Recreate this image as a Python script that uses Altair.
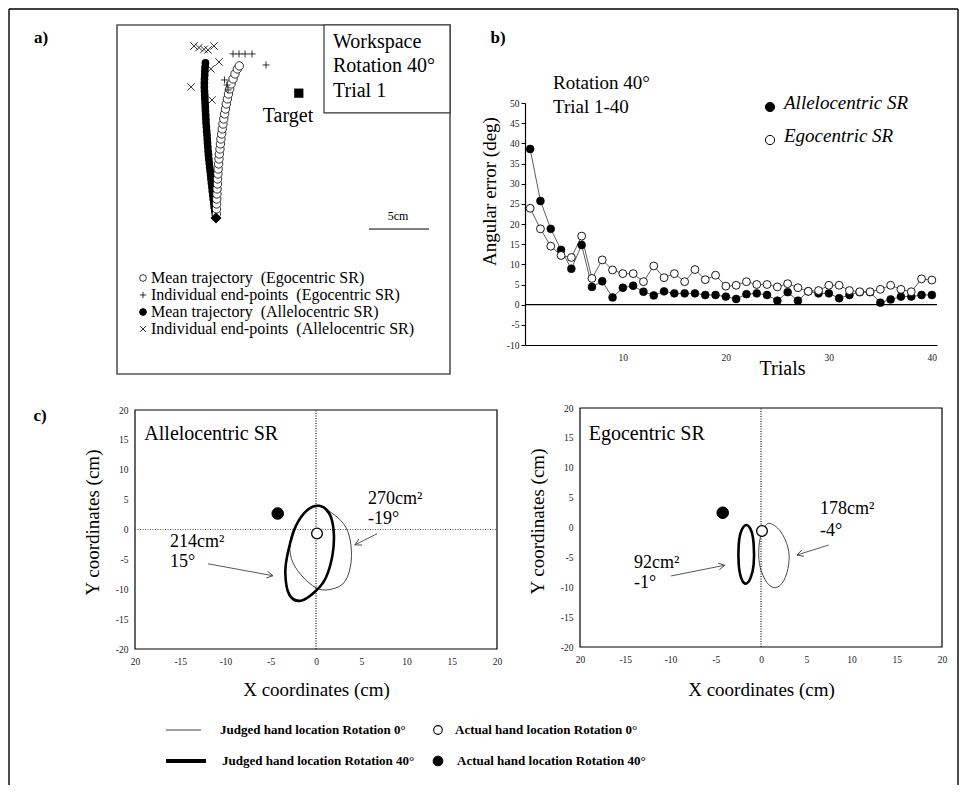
import altair as alt
import pandas as pd

SERIF = "Liberation Serif"
W, H = 949, 776   # the figure frame (= view); page offset is 8 px
M = 8

def vx(p):
    return p - M

def vy(p):
    return p - M

# ======================= DATA =======================
# ---- panel a: workspace, Rotation 40°, trial 1 (cm, start point = 0,0)
a_allo_x = [-0.04, -0.10, -0.15, -0.19, -0.23, -0.27, -0.31, -0.34, -0.38, -0.42, -0.45, -0.49, -0.53,
            -0.56, -0.60, -0.63, -0.66, -0.68, -0.71, -0.73, -0.75, -0.78, -0.80, -0.83, -0.84, -0.86,
            -0.88, -0.89, -0.91, -0.93, -0.94, -0.96, -0.97, -0.97, -0.96, -0.94, -0.93, -0.91, -0.88]
a_allo_y = [0.25, 0.58, 0.92, 1.25, 1.58, 1.92, 2.25, 2.58, 2.92, 3.25, 3.58, 3.92, 4.25, 4.58, 4.92,
            5.25, 5.58, 5.92, 6.25, 6.58, 6.92, 7.25, 7.58, 7.92, 8.25, 8.58, 8.92, 9.25, 9.58, 9.92,
            10.25, 10.58, 10.92, 11.25, 11.58, 11.92, 12.25, 12.58, 12.92]
a_ego_x = [0.03, 0.04, 0.05, 0.06, 0.08, 0.09, 0.12, 0.13, 0.16, 0.18, 0.22, 0.25, 0.28, 0.33, 0.37,
           0.41, 0.47, 0.52, 0.58, 0.65, 0.72, 0.79, 0.86, 0.95, 1.04, 1.14, 1.26, 1.42, 1.58, 1.78, 1.94]
a_ego_y = [0.33, 0.75, 1.17, 1.58, 2.0, 2.42, 2.83, 3.25, 3.67, 4.08, 4.5, 4.92, 5.33, 5.75, 6.17,
           6.58, 7.0, 7.42, 7.83, 8.25, 8.67, 9.08, 9.5, 9.92, 10.33, 10.75, 11.17, 11.58, 12.0, 12.42, 12.67]
a_allo_end_x = [-1.83, -1.42, -1.0, -0.67, -0.17, 0.25, -0.42, -2.08, -0.33]
a_allo_end_y = [14.33, 14.2, 14.05, 14.0, 14.33, 13.0, 12.42, 10.92, 9.83]
a_ego_end_x = [1.42, 1.92, 2.42, 3.0, 4.17, 0.71, 0.92, 1.0]
a_ego_end_y = [13.67, 13.67, 13.67, 13.67, 12.75, 11.5, 11.08, 10.67]
a_start = [0.0, 0.0]
a_target = [6.9, 10.4]
a_info_lines = ["Workspace", "Rotation 40°", "Trial 1"]
a_legend_labels = ["Mean trajectory\u00a0 (Egocentric SR)",
                   "Individual end-points\u00a0 (Egocentric SR)",
                   "Mean trajectory\u00a0 (Allelocentric SR)",
                   "Individual end-points\u00a0 (Allelocentric SR)"]

# ---- panel b: angular error per trial
b_trials = list(range(1, 41))
b_allo = [38.6, 25.7, 18.8, 13.6, 8.9, 14.8, 4.4, 5.8, 1.8, 4.2, 4.7, 3.2, 2.3, 3.3, 2.8, 2.8, 2.8, 2.4,
          2.4, 2.0, 1.4, 2.6, 2.8, 2.4, 1.0, 3.1, 1.0, 3.3, 2.8, 2.8, 1.6, 2.4, 3.1, 3.1, 0.5, 1.3, 2.0,
          2.0, 2.4, 2.4]
b_ego = [23.9, 18.8, 14.5, 12.2, 11.7, 17.0, 6.5, 11.1, 8.6, 7.7, 7.7, 5.7, 9.6, 6.7, 7.7, 5.7, 8.7, 6.2,
         7.3, 4.6, 4.8, 5.7, 5.0, 5.0, 4.4, 5.2, 4.2, 3.3, 3.5, 4.8, 4.8, 3.5, 3.2, 3.2, 3.8, 4.8, 3.8,
         3.2, 6.4, 6.1]
b_info_lines = ["Rotation 40°", "Trial 1-40"]
b_series = ["Allelocentric SR", "Egocentric SR"]
b_yticks = list(range(-10, 51, 5))
b_xticks = [10, 20, 30, 40]

# ---- panel c: judged hand location ellipses (cm)
c_ticks = [-20, -15, -10, -5, 0, 5, 10, 15, 20]
c_titles = ["Allelocentric SR", "Egocentric SR"]
c_allo_thin_x = [0.0, 2.02, 3.31, 3.87, 3.79, 2.95, 1.10, -0.37, -2.02, -2.84, -2.69, -1.66]
c_allo_thin_y = [3.96, 2.46, 0.33, -2.73, -6.35, -9.13, -10.13, -9.41, -6.91, -4.11, -0.77, 2.01]
c_allo_thick_x = [0.37, 1.47, 1.95, 1.84, 1.10, 0.0, -1.66, -2.95, -3.39, -3.06, -2.21, -0.92]
c_allo_thick_y = [3.96, 2.68, -0.22, -4.12, -8.03, -10.25, -11.92, -10.92, -7.19, -3.56, 0.62, 3.29]
c_ego_thin_x = [0.85, 2.13, 2.98, 3.06, 2.50, 1.58, 0.66, -0.08, -0.25, 0.03]
c_ego_thin_y = [0.70, -0.59, -3.38, -6.15, -8.95, -10.07, -9.23, -6.72, -3.93, -1.14]
c_ego_thick_x = [-1.62, -1.07, -0.81, -0.81, -1.14, -1.66, -2.18, -2.46, -2.46, -2.18]
c_ego_thick_y = [0.42, -0.59, -2.81, -6.15, -8.39, -9.40, -8.49, -6.15, -2.81, -0.59]
c_allo_actual0 = [0.11, -0.67]
c_allo_actual40 = [-4.23, 2.68]
c_ego_actual0 = [0.11, -0.59]
c_ego_actual40 = [-4.23, 2.47]
c_allo_notes = ["270cm²", "-19°", "214cm²", "15°"]
c_ego_notes = ["178cm²", "-4°", "92cm²", "-1°"]
c_legend_labels = ["Judged hand location Rotation 0°", "Judged hand location Rotation 40°",
                   "Actual hand location Rotation 0°", "Actual hand location Rotation 40°"]

# ======================= HELPERS =======================
PLUS = "M-1,0L1,0M0,-1L0,1"
CROSS = "M-1,-1L1,1M-1,1L1,-1"
ARROW = "M-1,-0.55L0,0L-1,0.55"


def sc(domain, rng):
    return alt.Scale(domain=domain, range=rng, nice=False, zero=False)


def df(**cols):
    return pd.DataFrame(cols)


def enc(sx, sy, ax=None, ay=None):
    return {"x": alt.X("x:Q", scale=sx, axis=ax), "y": alt.Y("y:Q", scale=sy, axis=ay)}


def ptext(x, y, s, size, weight="normal", align="left", style="normal", base="middle"):
    return alt.Chart(df(k=[0])).mark_text(
        align=align, baseline=base, font=SERIF, fontSize=size, fontWeight=weight,
        fontStyle=style, color="black"
    ).encode(x=alt.value(vx(x)), y=alt.value(vy(y)), text=alt.value(s))


def ppoint(x, y, size, shape="circle", fill="black", filled=True, sw=1.0):
    if filled:
        mk = alt.Chart(df(k=[0])).mark_point(shape=shape, filled=True, fill=fill, stroke="black",
                                             strokeWidth=sw, size=size, opacity=1)
    else:
        mk = alt.Chart(df(k=[0])).mark_point(shape=shape, filled=False, color="black",
                                             strokeWidth=sw, size=size, opacity=1)
    return mk.encode(x=alt.value(vx(x)), y=alt.value(vy(y)))


def prule(x, y, x2=None, y2=None, color="black", sw=1.3):
    e = {"x": alt.value(x), "y": alt.value(y)}
    if x2 is not None:
        e["x2"] = alt.value(x2)
    if y2 is not None:
        e["y2"] = alt.value(y2)
    return alt.Chart(df(k=[0])).mark_rule(color=color, strokeWidth=sw).encode(**e)


# ======================= PANEL A =======================
A_XD, A_YD = [-8.25, 19.5], [-13.0, 16.08]
AX, AY = sc(A_XD, [vx(116), vx(449)]), sc(A_YD, [vy(373), vy(24)])


def ea():
    return enc(AX, AY)


a_layers = [
    alt.Chart(df(x=[A_XD[0]], x2=[A_XD[1]], y=[A_YD[0]], y2=[A_YD[1]])).mark_rect(
        fill="white", fillOpacity=0, stroke="#555", strokeWidth=1.6
    ).encode(**ea(), x2="x2:Q", y2="y2:Q"),
    alt.Chart(df(x=[9.0], x2=[19.5], y=[8.75], y2=[16.08])).mark_rect(
        fill="white", stroke="#333", strokeWidth=1.2
    ).encode(**ea(), x2="x2:Q", y2="y2:Q"),
    alt.Chart(df(x=[9.75] * 3, y=[14.67, 12.67, 10.58], t=a_info_lines)).mark_text(
        align="left", baseline="middle", font=SERIF, fontSize=20, color="black"
    ).encode(**ea(), text="t:N"),
    alt.Chart(df(x=a_allo_x, y=a_allo_y)).mark_circle(size=60, color="black", opacity=1).encode(**ea()),
    alt.Chart(df(x=a_ego_x, y=a_ego_y)).mark_circle(
        size=70, fill="white", stroke="black", strokeWidth=0.8, opacity=1
    ).encode(**ea()),
    alt.Chart(df(x=a_ego_end_x, y=a_ego_end_y)).mark_point(
        shape=PLUS, filled=False, color="black", strokeWidth=0.8, size=50, opacity=1
    ).encode(**ea()),
    alt.Chart(df(x=a_allo_end_x, y=a_allo_end_y)).mark_point(
        shape=CROSS, filled=False, color="black", strokeWidth=0.8, size=55, opacity=1
    ).encode(**ea()),
    alt.Chart(df(x=[a_start[0]], y=[a_start[1]])).mark_point(
        shape="diamond", filled=True, color="black", size=120, opacity=1
    ).encode(**ea()),
    alt.Chart(df(x=[a_target[0]], y=[a_target[1]])).mark_square(size=85, color="black", opacity=1).encode(**ea()),
    alt.Chart(df(x=[6.0], y=[8.5], t=["Target"])).mark_text(
        align="center", baseline="middle", font=SERIF, fontSize=20, color="black"
    ).encode(**ea(), text="t:N"),
    alt.Chart(df(x=[12.75], x2=[17.75], y=[-0.92])).mark_rule(color="black", strokeWidth=1).encode(
        **ea(), x2="x2:Q"),
    alt.Chart(df(x=[15.17], y=[0.17], t=["5cm"])).mark_text(
        align="center", baseline="middle", font=SERIF, fontSize=12, color="black"
    ).encode(**ea(), text="t:N"),
]
panel_a = alt.layer(*a_layers)

a_leg_rows = [277, 294, 311, 328]
a_leg = [
    ppoint(142, a_leg_rows[0], 45, fill="white", sw=0.8),
    ppoint(142, a_leg_rows[1], 40, shape=PLUS, filled=False, sw=0.8),
    ppoint(142, a_leg_rows[2], 45, fill="black"),
    ppoint(142, a_leg_rows[3], 32, shape=CROSS, filled=False, sw=0.8),
] + [ptext(150, r, s, 16) for r, s in zip(a_leg_rows, a_legend_labels)]

# ======================= PANEL B =======================
BX = sc([0.5, 40.5], [vx(524), vx(936)])
BY = sc([-10, 50], [vy(344), vy(102)])
B_YAX = alt.Axis(
    orient="left", offset=-vx(524), values=b_yticks, labelExpr="'' + datum.value",
    ticks=True, tickSize=4, tickColor="black", tickWidth=1, domain=True, domainColor="black",
    domainWidth=1.2, labelFont=SERIF, labelFontSize=9.5, labelColor="#222", labelPadding=2,
    labelFlush=False, grid=False,
    title="Angular error (deg)", titleFont=SERIF, titleFontSize=19, titleFontWeight="normal",
    titleColor="black", titleAngle=270, titleAlign="center", titleBaseline="middle",
    titleX=vx(488) - vx(524), titleY=vy(190),
)
B_XAX = alt.Axis(
    orient="bottom", offset=vy(344) - H, values=b_xticks, labelExpr="'' + datum.value",
    ticks=False, domain=True, domainColor="black", domainWidth=1.2, labelFont=SERIF,
    labelFontSize=9.5, labelColor="#222", labelPadding=7, labelFlush=False, grid=False,
    title="Trials", titleFont=SERIF, titleFontSize=20, titleFontWeight="normal", titleColor="black",
    titleAlign="center", titleBaseline="middle", titleX=vx(781), titleY=23,
)


def eb():
    return enc(BX, BY, B_XAX, B_YAX)


b_df_allo = df(x=b_trials, y=b_allo)
b_df_ego = df(x=b_trials, y=b_ego)
b_layers = [
    alt.Chart(df(x=[0.5], x2=[40.5], y=[0])).mark_rule(color="black", strokeWidth=1.2).encode(
        **eb(), x2="x2:Q"),
    alt.Chart(b_df_allo).mark_line(color="#333", strokeWidth=0.8).encode(**eb()),
    alt.Chart(b_df_ego).mark_line(color="#333", strokeWidth=0.8).encode(**eb()),
    alt.Chart(b_df_allo).mark_circle(size=62, color="black", stroke="black", strokeWidth=0.6,
                                     opacity=1).encode(**eb()),
    alt.Chart(b_df_ego).mark_circle(size=62, fill="white", stroke="black", strokeWidth=0.9,
                                    opacity=1).encode(**eb()),
    alt.Chart(df(x=[3.22, 3.22], y=[54.96, 49.0], t=b_info_lines)).mark_text(
        align="left", baseline="middle", font=SERIF, fontSize=19, color="black"
    ).encode(**eb(), text="t:N"),
]
panel_b = alt.layer(*b_layers)

b_leg = [
    ppoint(769, 106, 85, fill="black"),
    ppoint(769, 139, 85, fill="white", sw=1.0),
    ptext(783, 108, b_series[0], 19, style="italic", base="alphabetic"),
    ptext(783, 141, b_series[1], 19, style="italic", base="alphabetic"),
]

# ======================= PANEL C =======================


def c_axes(x_rng, y_rng, ytx, yty, xtx, xty):
    yax = alt.Axis(
        orient="left", offset=-x_rng[0], values=c_ticks, labelExpr="'' + datum.value",
        ticks=False, tickSize=0, domain=False, labelFont=SERIF, labelFontSize=9.5, labelColor="#222",
        labelPadding=7, labelFlush=False, grid=False,
        title="Y coordinates (cm)", titleFont=SERIF, titleFontSize=19, titleFontWeight="normal",
        titleColor="black", titleAngle=270, titleAlign="center", titleBaseline="middle",
        titleX=ytx - x_rng[0], titleY=yty,
    )
    xax = alt.Axis(
        orient="bottom", offset=y_rng[0] - H, values=c_ticks,
        labelExpr="datum.value == -20 ? '20' : '' + datum.value",
        ticks=False, tickSize=0, domain=False, labelFont=SERIF, labelFontSize=9.5, labelColor="#222",
        labelPadding=7, labelFlush=False, grid=False,
        title="X coordinates (cm)", titleFont=SERIF, titleFontSize=19, titleFontWeight="normal",
        titleColor="black", titleAlign="center", titleBaseline="middle",
        titleX=xtx, titleY=xty,
    )
    return xax, yax


def panel_c(x_rng, y_rng, ytitle, xtitle, title, title_xy, thin, thick, act0, act40,
            notes, note_xy, arrows, hline):
    SX, SY = sc([-20, 20], x_rng), sc([-20, 20], y_rng)
    xax, yax = c_axes(x_rng, y_rng, ytitle[0], ytitle[1], xtitle[0], xtitle[1])

    def ec():
        return enc(SX, SY, xax, yax)

    layers = [
        alt.Chart(df(x=[-20], x2=[20], y=[-20], y2=[20])).mark_rect(
            fill="white", fillOpacity=0, stroke="black", strokeWidth=1.2
        ).encode(**ec(), x2="x2:Q", y2="y2:Q"),
        alt.Chart(df(x=[0], y=[-20], y2=[20])).mark_rule(
            color="#222", strokeWidth=1.3, strokeDash=[1, 1.5]).encode(**ec(), y2="y2:Q"),
    ]
    if hline:
        layers.append(alt.Chart(df(x=[-20], x2=[20], y=[0])).mark_rule(
            color="#555", strokeWidth=1, strokeDash=[1, 1.5]).encode(**ec(), x2="x2:Q"))
    layers += [
        alt.Chart(df(x=thin[0], y=thin[1], o=list(range(len(thin[0]))))).mark_line(
            interpolate="cardinal-closed", color="#333", strokeWidth=0.9
        ).encode(**ec(), order="o:Q"),
        alt.Chart(df(x=thick[0], y=thick[1], o=list(range(len(thick[0]))))).mark_line(
            interpolate="cardinal-closed", color="black", strokeWidth=2.6
        ).encode(**ec(), order="o:Q"),
        alt.Chart(df(x=[act40[0]], y=[act40[1]])).mark_circle(
            size=135, color="black", stroke="black", strokeWidth=1, opacity=1).encode(**ec()),
        alt.Chart(df(x=[act0[0]], y=[act0[1]])).mark_circle(
            size=115, fill="white", stroke="black", strokeWidth=1.3, opacity=1).encode(**ec()),
        alt.Chart(df(x=[title_xy[0]], y=[title_xy[1]], t=[title])).mark_text(
            align="left", baseline="middle", font=SERIF, fontSize=20, color="black"
        ).encode(**ec(), text="t:N"),
        alt.Chart(df(x=[p[0] for p in note_xy], y=[p[1] for p in note_xy], t=notes)).mark_text(
            align="left", baseline="middle", font=SERIF, fontSize=18, color="black"
        ).encode(**ec(), text="t:N"),
    ]
    for (x0, y0, x1, y1, ang) in arrows:
        layers.append(alt.Chart(df(x=[x0], y=[y0], x2=[x1], y2=[y1])).mark_rule(
            color="#444", strokeWidth=0.9).encode(**ec(), x2="x2:Q", y2="y2:Q"))
        layers.append(alt.Chart(df(x=[x1], y=[y1])).mark_point(
            shape=ARROW, filled=False, color="#444", strokeWidth=0.9, size=150, angle=ang,
            opacity=1).encode(**ec()))
    return alt.layer(*layers)


panel_c1 = panel_c(
    [vx(134), vx(496)], [vy(648), vy(409)],
    (vx(91), vy(521)), (vx(315), 40),
    c_titles[0], (-18.97, 15.95),
    (c_allo_thin_x, c_allo_thin_y), (c_allo_thick_x, c_allo_thick_y),
    c_allo_actual0, c_allo_actual40,
    c_allo_notes, [(5.75, 5.08), (5.75, 1.74), (-16.13, -2.17), (-16.13, -5.52)],
    [(6.74, -0.72, 4.31, -2.56, 153), (-11.93, -5.74, -4.75, -7.74, 10.5)],
    True,
)
panel_c2 = panel_c(
    [vx(579), vx(941)], [vy(646), vy(407)],
    (vx(536), vy(520)), (vx(760), 42),
    c_titles[1], (-19.04, 15.69),
    (c_ego_thin_x, c_ego_thin_y), (c_ego_thick_x, c_ego_thick_y),
    c_ego_actual0, c_ego_actual40,
    c_ego_notes, [(6.52, 3.09), (6.52, -0.59), (-14.03, -5.94), (-14.03, -9.28)],
    [(7.48, -2.93, 3.98, -4.60, 162.5), (-9.94, -8.11, -4.01, -6.32, 348.7)],
    False,
)

# bottom legend of panel c
c_leg = [
    alt.Chart(df(k=[0])).mark_rule(color="#808080", strokeWidth=1.5).encode(
        x=alt.value(vx(165)), x2=alt.value(vx(200)), y=alt.value(vy(729))),
    alt.Chart(df(k=[0])).mark_rule(color="black", strokeWidth=4).encode(
        x=alt.value(vx(165)), x2=alt.value(vx(205)), y=alt.value(vy(760))),
    ptext(219, 729, c_legend_labels[0], 13, weight="bold"),
    ptext(221, 760, c_legend_labels[1], 13, weight="bold"),
    ppoint(437, 729, 75, fill="white", sw=1.1),
    ppoint(437, 760, 95, fill="black"),
    ptext(454, 729, c_legend_labels[2], 13, weight="bold"),
    ptext(456, 760, c_legend_labels[3], 13, weight="bold"),
]

panel_tags = [
    ptext(40, 37, "a)", 17, weight="bold", align="center"),
    ptext(497, 37, "b)", 17, weight="bold", align="center"),
    ptext(39, 415, "c)", 17, weight="bold", align="center"),
]

# outer figure frame: top, left and right sides (bottom runs off the page)
frame = [
    prule(0, 0, x2=W, sw=1.4),
    prule(0, 0, y2=H, sw=1.4),
    prule(W, 0, y2=H, sw=1.4),
]

chart = alt.layer(
    *frame, panel_a, panel_b, panel_c1, panel_c2, *a_leg, *b_leg, *c_leg, *panel_tags
).resolve_scale(
    x="independent", y="independent"
).properties(
    width=W, height=H, padding=0, background="white"
).configure_view(
    stroke="transparent", strokeWidth=0
).configure_axis(grid=False)

chart.save("out.html", embed_options={"renderer": "svg", "actions": False})
